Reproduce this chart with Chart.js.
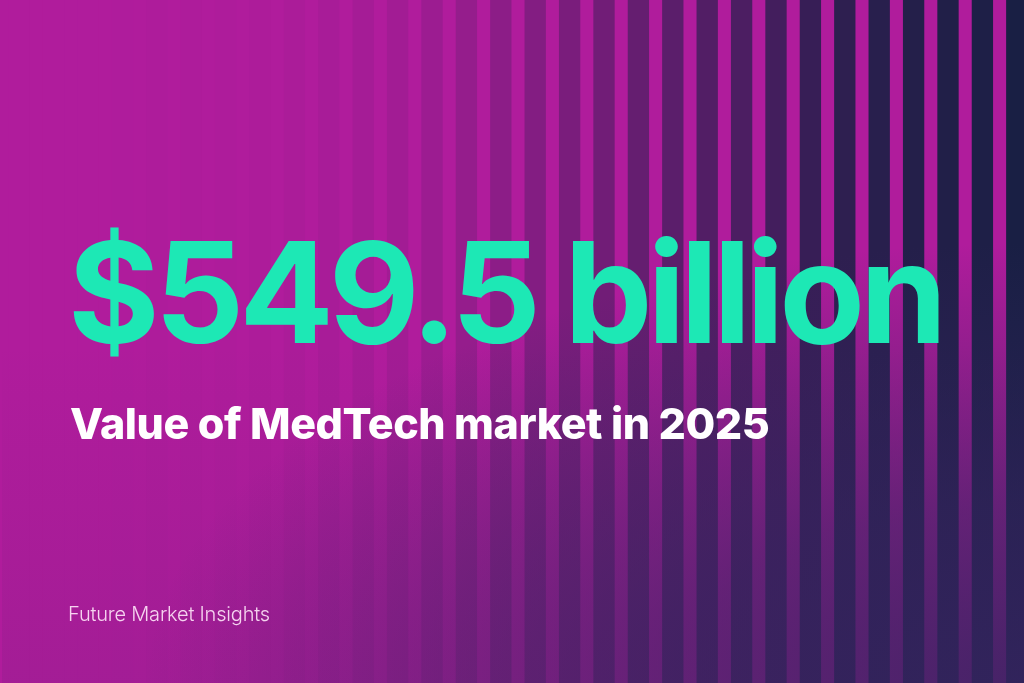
<!DOCTYPE html>
<html>
<head>
<meta charset="utf-8">
<script src="https://cdn.jsdelivr.net/npm/chart.js@4.4.0/dist/chart.umd.min.js"></script>
<style>
    html, body {
        margin: 0;
        padding: 0;
        width: 1024px;
        height: 683px;
        overflow: hidden;
        background: #b01c9c;
        font-family: 'Inter', 'Open Sans', sans-serif;
    }
    #stripes {
        position: absolute;
        left: 2px;
        top: 0;
    }
    .headline {
        position: absolute;
        left: 68px;
        top: 222px;
        font-size: 140px;
        line-height: 1;
        font-weight: 700;
        letter-spacing: -5px;
        color: #1de8b5;
        white-space: nowrap;
    }
    .subtitle {
        position: absolute;
        left: 70px;
        top: 402px;
        font-size: 43px;
        line-height: 1;
        font-weight: 800;
        letter-spacing: -0.45px;
        color: #ffffff;
        white-space: nowrap;
    }
    .source {
        position: absolute;
        left: 68px;
        top: 604px;
        font-size: 20px;
        line-height: 1;
        font-weight: 300;
        letter-spacing: -0.2px;
        color: rgba(255, 232, 250, 0.9);
        white-space: nowrap;
    }
</style>
</head>
<body>
<canvas id="stripes" width="1032" height="683"></canvas>
<div class="headline">$549.5 billion</div>
<div class="subtitle">Value of MedTech market in 2025</div>
<div class="source">Future Market Insights</div>

<script>
// Background stripes, left to right
const stripeLabels = [
    'S1', 'S2', 'S3', 'S4', 'S5', 'S6', 'S7', 'S8', 'S9', 'S10',
    'S11', 'S12', 'S13', 'S14', 'S15', 'S16', 'S17', 'S18', 'S19', 'S20',
    'S21', 'S22', 'S23', 'S24', 'S25', 'S26', 'S27', 'S28', 'S29', 'S30'
];

// How dark each stripe is (0 = magenta, 1 = navy)
const stripeShade = [
    0.00, 0.00, 0.00, 0.005, 0.01, 0.01, 0.015, 0.02, 0.03, 0.05,
    0.07, 0.09, 0.13, 0.18, 0.24, 0.30, 0.36, 0.42, 0.50, 0.56,
    0.62, 0.66, 0.72, 0.80, 0.86, 0.90, 0.93, 0.95, 0.97, 1.00
];

// Every stripe runs the full height
const stripeHeight = [
    1, 1, 1, 1, 1, 1, 1, 1, 1, 1,
    1, 1, 1, 1, 1, 1, 1, 1, 1, 1,
    1, 1, 1, 1, 1, 1, 1, 1, 1, 1
];

const magenta = [176, 28, 156];
const navy = [25, 31, 68];
const dusk = [53, 36, 95];

function mixColor(t) {
    const c = magenta.map((m, i) => Math.round(m + (navy[i] - m) * t));
    return `rgb(${c[0]}, ${c[1]}, ${c[2]})`;
}

const basePlugin = {
    id: 'base',
    beforeDraw(chart) {
        const ctx = chart.ctx;
        ctx.save();
        ctx.fillStyle = `rgb(${magenta.join(',')})`;
        ctx.fillRect(0, 0, chart.width, chart.height);
        ctx.restore();
    }
};

// Purple haze that washes over the lower right
const hazePlugin = {
    id: 'haze',
    afterDatasetsDraw(chart) {
        const ctx = chart.ctx;
        const w = chart.width;
        const h = chart.height;
        ctx.save();

        const lin = ctx.createLinearGradient(0, h * 0.5, 0, h);
        lin.addColorStop(0, `rgba(${dusk.join(',')}, 0)`);
        lin.addColorStop(1, `rgba(${dusk.join(',')}, 0.1)`);
        ctx.fillStyle = lin;
        ctx.fillRect(0, 0, w, h);

        const rx = 880, ry = 440;
        ctx.translate(1024, h);
        ctx.scale(1, ry / rx);
        const rad = ctx.createRadialGradient(0, 0, 0, 0, 0, rx);
        rad.addColorStop(0, `rgba(${dusk.join(',')}, 0.85)`);
        rad.addColorStop(0.4, `rgba(${dusk.join(',')}, 0.6)`);
        rad.addColorStop(1, `rgba(${dusk.join(',')}, 0)`);
        ctx.fillStyle = rad;
        ctx.fillRect(-1100, -rx * 2, 2200, rx * 2);
        ctx.restore();
    }
};

new Chart(document.getElementById('stripes').getContext('2d'), {
    type: 'bar',
    data: {
        labels: stripeLabels,
        datasets: [{
            label: 'Stripes',
            data: stripeHeight,
            backgroundColor: ctx => mixColor(stripeShade[ctx.dataIndex]),
            borderWidth: 0,
            barPercentage: 0.62,
            categoryPercentage: 1.0
        }]
    },
    options: {
        responsive: false,
        animation: false,
        layout: { padding: 0 },
        plugins: {
            legend: { display: false },
            tooltip: { enabled: false }
        },
        scales: {
            x: { display: false, offset: true, grid: { display: false } },
            y: { display: false, min: 0, max: 1 }
        }
    },
    plugins: [basePlugin, hazePlugin]
});
</script>
</body>
</html>
